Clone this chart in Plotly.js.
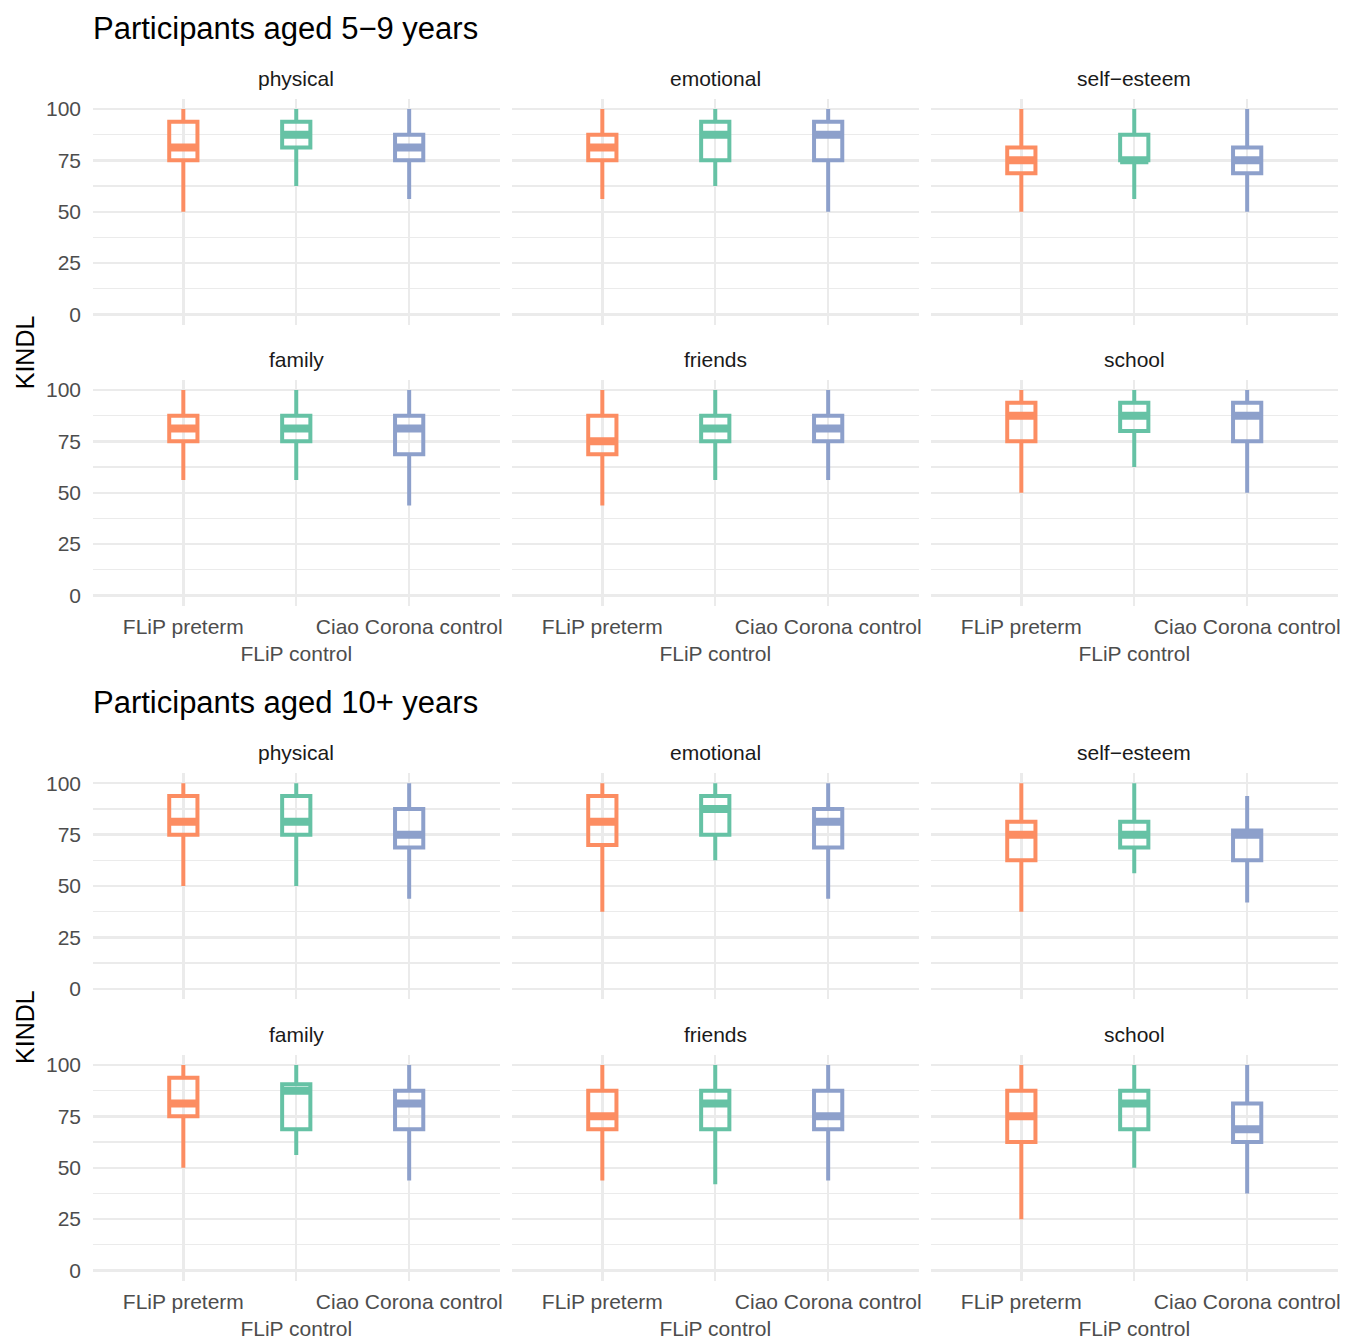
<!DOCTYPE html>
<html>
<head>
<meta charset="utf-8">
<script src="https://cdn.plot.ly/plotly-3.0.1.min.js"></script>
<style>
  html, body { margin: 0; padding: 0; background: #ffffff; }
  #chart { width: 1346px; height: 1339px; }
</style>
</head>
<body>
<div id="chart"></div>
<script>
// ---------------- DATA ----------------
const groups = ["FLiP preterm", "FLiP control", "Ciao Corona control"];
const groupTickText = ["FLiP preterm", "<br>FLiP control", "Ciao Corona control"];
const domains = ["physical", "emotional", "self\u2212esteem", "family", "friends", "school"];
const sectionTitles = ["Participants aged 5\u22129 years", "Participants aged 10+ years"];
const yTicks = [0, 25, 50, 75, 100];
const yMinorTicks = [12.5, 37.5, 62.5, 87.5];
const groupColors = ["#FC8D62", "#66C2A5", "#8DA0CB"];

// Age 5-9: rows = groups (preterm, control, Ciao Corona), columns = domains
const age59_lower  = [[50, 56.25, 50, 56.25, 43.75, 50],
                      [62.5, 62.5, 56.25, 56.25, 56.25, 62.5],
                      [56.25, 50, 50, 43.75, 56.25, 50]];
const age59_q1     = [[75, 75, 68.75, 75, 68.75, 75],
                      [81.25, 75, 75, 75, 75, 80],
                      [75, 75, 68.75, 68.75, 75, 75]];
const age59_median = [[81.25, 81.25, 75, 81.25, 75, 87.5],
                      [87.5, 87.5, 75, 81.25, 81.25, 87.5],
                      [81.25, 87.5, 75, 81.25, 81.25, 87.5]];
const age59_q3     = [[93.75, 87.5, 81.25, 87.5, 87.5, 93.75],
                      [93.75, 93.75, 87.5, 87.5, 87.5, 93.75],
                      [87.5, 93.75, 81.25, 87.5, 87.5, 93.75]];
const age59_upper  = [[100, 100, 100, 100, 100, 100],
                      [100, 100, 100, 100, 100, 100],
                      [100, 100, 100, 100, 100, 100]];

// Age 10+: rows = groups, columns = domains
const age10_lower  = [[50, 37.5, 37.5, 50, 43.75, 25],
                      [50, 62.5, 56.25, 56.25, 42, 50],
                      [43.75, 43.75, 42, 43.75, 43.75, 37.5]];
const age10_q1     = [[75, 70, 62.5, 75, 68.75, 62.5],
                      [75, 75, 68.75, 68.75, 68.75, 68.75],
                      [68.75, 68.75, 62.5, 68.75, 68.75, 62.5]];
const age10_median = [[81.25, 81.25, 75, 81.25, 75, 75],
                      [81.25, 87.5, 75, 87.5, 81.25, 81.25],
                      [75, 81.25, 75, 81.25, 75, 68.75]];
const age10_q3     = [[93.75, 93.75, 81.25, 93.75, 87.5, 87.5],
                      [93.75, 93.75, 81.25, 90.625, 87.5, 87.5],
                      [87.5, 87.5, 77, 87.5, 87.5, 81.25]];
const age10_upper  = [[100, 100, 100, 100, 100, 100],
                      [100, 100, 100, 100, 100, 100],
                      [100, 100, 93.75, 100, 100, 100]];

const sections = [
  {lower: age59_lower, q1: age59_q1, median: age59_median, q3: age59_q3, upper: age59_upper},
  {lower: age10_lower, q1: age10_q1, median: age10_median, q3: age10_q3, upper: age10_upper}
];

// ---------------- LAYOUT GEOMETRY (pixels) ----------------
const W = 1346, H = 1339;
const colPx = [[93, 499.5], [512, 918.5], [931, 1337.5]];
const rowPx = [[98.7, 324.8], [379.7, 605.8], [773, 999], [1054.7, 1280.8]];
const fx = p => p / W;
const fy = p => 1 - p / H;

const FONT = "Liberation Sans, Arial, Helvetica, sans-serif";
const BOX_W = 0.25;
const TXT = 21;

const traces = [];
const layout = {
  width: W, height: H,
  margin: {l: 0, r: 0, t: 0, b: 0},
  paper_bgcolor: "#ffffff",
  plot_bgcolor: "rgba(0,0,0,0)",
  showlegend: false,
  boxmode: "overlay",
  font: {family: FONT, color: "#1A1A1A"},
  annotations: []
};

let k = 0;
for (let s = 0; s < 2; s++) {
  const sec = sections[s];
  for (let d = 0; d < 6; d++) {
    k++;
    const r = s * 2 + Math.floor(d / 3);
    const c = d % 3;
    const xa = "x" + (k === 1 ? "" : k);
    const ya = "y" + (k === 1 ? "" : k);
    const isBottom = (d >= 3);
    const isLeft = (c === 0);

    layout["xaxis" + (k === 1 ? "" : k)] = {
      domain: [fx(colPx[c][0]), fx(colPx[c][1])],
      anchor: ya,
      range: [-0.8, 2.8],
      tickmode: "array",
      tickvals: [0, 1, 2],
      ticktext: groupTickText,
      showticklabels: isBottom,
      tickangle: 0,
      ticks: "",
      ticklabelstandoff: 6,
      ticklabeloverflow: "allow",
      tickfont: {family: FONT, size: TXT, color: "#4D4D4D"},
      showgrid: true,
      gridcolor: "#EBEBEB",
      gridwidth: 2.4,
      zeroline: false,
      showline: false,
      fixedrange: true
    };
    layout["yaxis" + (k === 1 ? "" : k)] = {
      domain: [fy(rowPx[r][1]), fy(rowPx[r][0])],
      anchor: xa,
      range: [-5, 105],
      tickmode: "array",
      tickvals: yTicks,
      ticktext: yTicks.map(String),
      showticklabels: isLeft,
      ticks: "",
      ticklabelstandoff: 11,
      tickfont: {family: FONT, size: TXT, color: "#4D4D4D"},
      showgrid: true,
      gridcolor: "#EBEBEB",
      gridwidth: 2.4,
      minor: {tickmode: "array", tickvals: yMinorTicks, showgrid: true, gridcolor: "#EBEBEB", gridwidth: 1.2, ticks: ""},
      zeroline: false,
      showline: false,
      fixedrange: true
    };

    for (let g = 0; g < 3; g++) {
      traces.push({
        type: "box",
        name: groups[g],
        xaxis: xa, yaxis: ya,
        x: [g],
        q1: [sec.q1[g][d]],
        median: [sec.median[g][d]],
        q3: [sec.q3[g][d]],
        lowerfence: [sec.lower[g][d]],
        upperfence: [sec.upper[g][d]],
        width: BOX_W,
        whiskerwidth: 0,
        boxpoints: false,
        line: {color: groupColors[g], width: 4},
        fillcolor: "rgba(0,0,0,0)",
        hoverinfo: "skip"
      });
      traces.push({
        type: "scatter",
        mode: "lines",
        xaxis: xa, yaxis: ya,
        x: [g - BOX_W / 2, g + BOX_W / 2],
        y: [sec.median[g][d], sec.median[g][d]],
        line: {color: groupColors[g], width: 8},
        hoverinfo: "skip"
      });
    }

    // strip label
    layout.annotations.push({
      text: domains[d],
      xref: "paper", yref: "paper",
      x: fx((colPx[c][0] + colPx[c][1]) / 2),
      y: fy(rowPx[r][0] - 20),
      xanchor: "center", yanchor: "middle",
      showarrow: false,
      font: {family: FONT, size: TXT, color: "#1A1A1A"}
    });
  }

  // section title
  const titleY = s === 0 ? 28 : 702;
  layout.annotations.push({
    text: sectionTitles[s],
    xref: "paper", yref: "paper",
    x: fx(91), y: fy(titleY),
    xanchor: "left", yanchor: "middle",
    showarrow: false,
    font: {family: FONT, size: 31, color: "#000000"}
  });
  // y-axis title
  const top = rowPx[s * 2][0], bot = rowPx[s * 2 + 1][1];
  layout.annotations.push({
    text: "KINDL",
    xref: "paper", yref: "paper",
    x: fx(25), y: fy((top + bot) / 2),
    xanchor: "center", yanchor: "middle",
    textangle: -90,
    showarrow: false,
    font: {family: FONT, size: 25, color: "#000000"}
  });
}

Plotly.newPlot("chart", traces, layout, {displayModeBar: false, staticPlot: true});
</script>
</body>
</html>
